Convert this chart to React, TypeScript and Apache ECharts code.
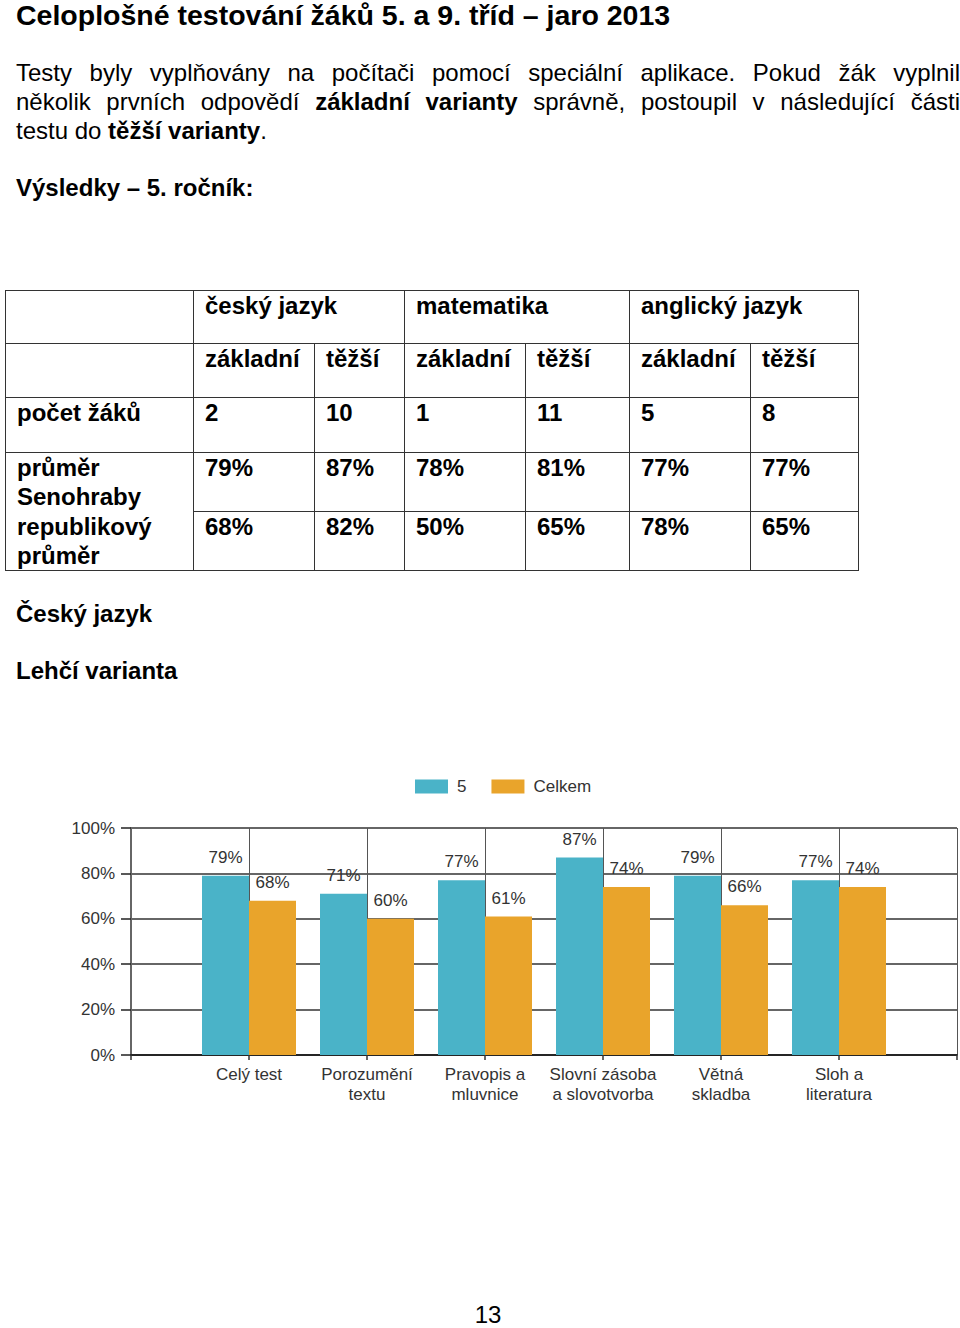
import React, { useEffect, useRef } from "react";
import * as echarts from "echarts";

// ---- chart data ----
const categories = [
  "",
  "Celý test",
  "Porozumění\ntextu",
  "Pravopis a\nmluvnice",
  "Slovní zásoba\na slovotvorba",
  "Větná\nskladba",
  "Sloh a\nliteratura",
  "",
];
const grade5Values = ["-", 79, 71, 77, 87, 79, 77, "-"];
const totalValues = ["-", 68, 60, 61, 74, 66, 74, "-"];
const seriesNames = ["5", "Celkem"];

// ---- table data ----
const subjects = ["český jazyk", "matematika", "anglický jazyk"];
const variants = ["základní", "těžší"];
const pupilCounts = ["2", "10", "1", "11", "5", "8"];
const schoolAverage = ["79%", "87%", "78%", "81%", "77%", "77%"];
const nationalAverage = ["68%", "82%", "50%", "65%", "78%", "65%"];

const FONT = '"Liberation Sans", Arial, Helvetica, sans-serif';

const xs = [5, 193, 314, 404, 525, 629, 750, 858];
const ys = [290, 343, 397, 452, 511, 570];

function Cell(props: { x0: number; x1: number; y0: number; y1: number; children?: any; lh?: number }) {
  const { x0, x1, y0, y1, children, lh } = props;
  return (
    <div
      style={{
        position: "absolute",
        left: x0,
        top: y0,
        width: x1 - x0 + 1,
        height: y1 - y0 + 1,
        border: "1px solid #333",
        boxSizing: "border-box",
        paddingLeft: 11,
        paddingTop: 0,
        fontWeight: "bold",
        fontSize: 24,
        lineHeight: (lh || 29) + "px",
        whiteSpace: "pre",
      }}
    >
      {children}
    </div>
  );
}

function Chart() {
  const ref = useRef<HTMLDivElement>(null);
  useEffect(() => {
    if (!ref.current) return;
    const chart = echarts.init(ref.current, null, { renderer: "svg" });
    const labelStyle = {
      show: true,
      position: "top",
      distance: 10,
      formatter: "{c}%",
      color: "#333",
      fontSize: 17,
      fontFamily: FONT,
    };
    chart.setOption({
      animation: false,
      textStyle: { fontFamily: FONT },
      legend: {
        data: seriesNames,
        top: 18,
        left: 415,
        padding: 0,
        icon: "rect",
        itemWidth: 33,
        itemHeight: 14,
        itemGap: 25,
        textStyle: { fontSize: 17, color: "#333", fontFamily: FONT, padding: [0, 0, 0, 4] },
      },
      grid: { left: 131, right: 2, top: 68, bottom: 65 },
      xAxis: {
        type: "category",
        data: categories,
        boundaryGap: false,
        axisLine: { lineStyle: { color: "#111", width: 1.5 } },
        axisTick: { show: true, length: 5, lineStyle: { color: "#333", width: 1.5 } },
        axisLabel: { interval: 0, color: "#333", fontSize: 17, lineHeight: 20, margin: 9, fontFamily: FONT },
        splitLine: { show: true, lineStyle: { color: "#555", width: 1 } },
      },
      yAxis: {
        type: "value",
        min: 0,
        max: 100,
        interval: 20,
        axisLine: { show: true, lineStyle: { color: "#666", width: 2 } },
        axisTick: { show: true, length: 10, lineStyle: { color: "#222", width: 1.5 } },
        axisLabel: { formatter: "{value}%", color: "#333", fontSize: 17, margin: 16, fontFamily: FONT },
        splitLine: { show: true, lineStyle: { color: "#333", width: 1.5 } },
      },
      series: [
        {
          name: seriesNames[0],
          type: "bar",
          data: grade5Values,
          barWidth: 47,
          barGap: "0%",
          itemStyle: { color: "#4ab3c8" },
          label: labelStyle,
        },
        {
          name: seriesNames[1],
          type: "bar",
          data: totalValues,
          barWidth: 47,
          barGap: "0%",
          itemStyle: { color: "#e9a42b" },
          label: labelStyle,
        },
      ],
    });
    return () => chart.dispose();
  }, []);
  return (
    <div
      ref={ref}
      style={{ position: "absolute", left: 0, top: 760, width: 960, height: 360 }}
    />
  );
}

export default function App() {
  const abs = (top: number, extra: any = {}) => ({
    position: "absolute" as const,
    left: 16,
    top,
    ...extra,
  });
  const justLine = (top: number, content: any, full: boolean) => (
    <div
      style={abs(top, {
        width: 944,
        fontSize: 24,
        lineHeight: "29px",
        textAlign: "justify",
        textAlignLast: full ? "justify" : "left",
        whiteSpace: "normal",
      })}
    >
      {content}
    </div>
  );
  const subjectCells = subjects.map((s, i) => (
    <Cell key={"s" + i} x0={xs[1 + i * 2]} x1={xs[3 + i * 2]} y0={ys[0]} y1={ys[1]}>
      {s}
    </Cell>
  ));
  const variantCells: any[] = [];
  for (let i = 0; i < 6; i++) {
    variantCells.push(
      <Cell key={"v" + i} x0={xs[1 + i]} x1={xs[2 + i]} y0={ys[1]} y1={ys[2]}>
        {variants[i % 2]}
      </Cell>
    );
  }
  const rowCells = (vals: string[], r0: number, r1: number, k: string) =>
    vals.map((v, i) => (
      <Cell key={k + i} x0={xs[1 + i]} x1={xs[2 + i]} y0={ys[r0]} y1={ys[r1]}>
        {v}
      </Cell>
    ));

  return (
    <div
      style={{
        position: "absolute",
        left: 0,
        top: 0,
        width: 960,
        height: 1328,
        background: "#fff",
        color: "#000",
        fontFamily: FONT,
        overflow: "hidden",
      }}
    >
      <div style={abs(1, { fontSize: 28.5, fontWeight: "bold", lineHeight: "28px", whiteSpace: "nowrap" })}>
        Celoplošné testování žáků 5. a 9. tříd – jaro 2013
      </div>
      {justLine(58, "Testy byly vyplňovány na počítači pomocí speciální aplikace. Pokud žák vyplnil", true)}
      {justLine(
        87,
        <>
          několik prvních odpovědí <b>základní varianty</b> správně, postoupil v následující části
        </>,
        true
      )}
      {justLine(
        116,
        <>
          testu do <b>těžší varianty</b>.
        </>,
        false
      )}
      <div style={abs(173, { fontSize: 24, fontWeight: "bold", lineHeight: "29px" })}>
        Výsledky – 5. ročník:
      </div>

      <Cell x0={xs[0]} x1={xs[1]} y0={ys[0]} y1={ys[1]} />
      {subjectCells}
      <Cell x0={xs[0]} x1={xs[1]} y0={ys[1]} y1={ys[2]} />
      {variantCells}
      <Cell x0={xs[0]} x1={xs[1]} y0={ys[2]} y1={ys[3]}>
        počet žáků
      </Cell>
      {rowCells(pupilCounts, 2, 3, "c")}
      <Cell x0={xs[0]} x1={xs[1]} y0={ys[3]} y1={ys[5]} lh={29.3}>
        {"průměr\nSenohraby\nrepublikový\nprůměr"}
      </Cell>
      {rowCells(schoolAverage, 3, 4, "a")}
      {rowCells(nationalAverage, 4, 5, "n")}

      <div style={abs(599, { fontSize: 24, fontWeight: "bold", lineHeight: "29px" })}>Český jazyk</div>
      <div style={abs(656, { fontSize: 24, fontWeight: "bold", lineHeight: "29px" })}>Lehčí varianta</div>

      <Chart />

      <div
        style={{
          position: "absolute",
          left: 0,
          width: 976,
          top: 1300,
          textAlign: "center",
          fontSize: 24,
          lineHeight: "29px",
        }}
      >
        13
      </div>
    </div>
  );
}
